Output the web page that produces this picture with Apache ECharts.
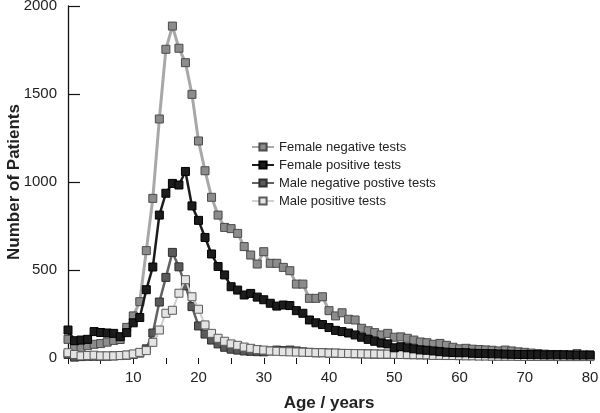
<!DOCTYPE html>
<html>
<head>
<meta charset="utf-8">
<script src="https://cdn.jsdelivr.net/npm/echarts@6/dist/echarts.min.js"></script>
<style>html,body{margin:0;padding:0;background:#fff}#c{width:600px;height:413px}</style>
</head>
<body>
<div id="c"></div>
<script>
var ages = [];
for (var a = 0; a <= 80; a++) ages.push(a);

var femaleNegative = [106,55,58,70,78,82,90,100,105,174,239,320,610,907,1358,1754,1886,1760,1678,1498,
  1233,1064,913,812,742,735,708,633,585,534,604,538,538,515,496,420,420,339,339,348,
  269,239,257,220,216,169,155,144,131,140,118,120,112,102,91,87,78,83,72,61,
  52,55,50,48,46,44,40,45,40,35,32,28,25,22,20,20,18,18,25,16,16];
var femalePositive = [159,98,102,106,150,145,142,140,121,144,200,230,388,517,812,936,992,983,1060,864,
  782,685,591,520,472,405,386,358,367,346,331,311,295,301,298,269,254,216,200,190,
  173,157,150,142,131,118,106,95,85,80,58,64,58,52,46,44,40,36,33,31,
  30,30,27,26,25,24,23,22,21,20,20,19,19,18,18,18,18,17,17,17,17];
var maleNegative = [20,5,8,10,10,10,10,12,14,16,20,28,52,142,318,458,600,518,410,292,
  182,136,102,80,61,50,45,40,38,36,35,40,45,42,45,40,35,32,30,30,
  28,27,26,25,24,24,23,22,22,21,20,20,19,19,18,18,17,17,16,16,
  15,15,15,14,14,14,13,13,13,13,12,12,12,12,12,12,12,12,12,12,12];
var malePositive = [30,20,12,14,16,12,12,12,14,17,23,32,42,89,159,254,271,368,445,348,
  277,188,140,112,95,80,72,62,55,48,45,40,38,36,35,34,33,32,30,30,
  28,28,26,26,25,24,23,23,22,22,21,20,20,19,19,18,15,15,14,14,
  13,12,12,11,11,10,10,10,10,9,9,9,9,9,9,8,8,8,8,8,8];

var seriesNames = ['Female negative tests','Female positive tests','Male negative postive tests','Male positive tests'];
var yTicks = [0,500,1000,1500,2000];
var xLabelStep = 10;

function pairs(vals){ return ages.map(function(x,i){ return [x, vals[i]]; }); }

var FONT = 'Liberation Sans, Arial, Helvetica, sans-serif';
var chart = echarts.init(document.getElementById('c'), null, {renderer:'canvas'});
function mk(name, data, fill, border, line, lw, z){
  return {
    name: name, type: 'line', data: pairs(data), z: z,
    symbol: 'rect', symbolSize: 8, clip: false, animation: false,
    itemStyle: {color: fill, borderColor: border, borderWidth: 1},
    lineStyle: {color: line, width: lw},
    emphasis: {disabled: true}
  };
}
chart.setOption({
  backgroundColor: '#fff',
  animation: false,
  grid: {left: 68, right: 10, top: 6, bottom: 55, containLabel: false, outerBoundsMode: 'none'},
  legend: {
    data: seriesNames, orient: 'vertical', left: 251, top: 140, padding: 0,
    itemWidth: 22, itemHeight: 9, itemGap: 4,
    textStyle: {fontFamily: FONT, fontSize: 13, color: '#222', lineHeight: 14}
  },
  xAxis: {
    type: 'value', min: 0, max: 80, interval: 5,
    name: 'Age / years', nameLocation: 'middle', nameGap: 37, nameMoveOverlap: false,
    nameTextStyle: {fontFamily: FONT, fontSize: 17, fontWeight: 'bold', color: '#222'},
    axisLine: {show: false},
    axisTick: {show: true, length: 6, lineStyle: {color: '#111', width: 1}},
    splitLine: {show: false},
    axisLabel: {
      margin: 12, fontFamily: FONT, fontSize: 15, color: '#222', hideOverlap: false,
      formatter: function(v){ return (v !== 0 && v % xLabelStep === 0) ? String(v) : ''; }
    }
  },
  yAxis: {
    type: 'value', min: yTicks[0], max: yTicks[yTicks.length-1], interval: yTicks[1]-yTicks[0],
    offset: 3,
    name: 'Number of Patients', nameLocation: 'middle', nameGap: 42, nameMoveOverlap: false,
    nameTextStyle: {fontFamily: FONT, fontSize: 17, fontWeight: 'bold', color: '#222'},
    axisLine: {show: true, lineStyle: {color: '#111', width: 1.3}},
    axisTick: {show: true, inside: true, length: 12, lineStyle: {color: '#111', width: 1.2}},
    splitLine: {show: false},
    axisLabel: {margin: 8, fontFamily: FONT, fontSize: 15, color: '#222',
      formatter: function(v){ return String(v); }}
  },
  series: [
    mk(seriesNames[0], femaleNegative, '#8c8c8c', '#4a4a4a', '#a8a8a8', 3, 2),
    mk(seriesNames[1], femalePositive, '#1c1c1c', '#000000', '#1c1c1c', 2.5, 5),
    mk(seriesNames[2], maleNegative, '#5a5a5a', '#2e2e2e', '#626262', 2.5, 3),
    mk(seriesNames[3], malePositive, '#e4e4e4', '#5a5a5a', '#d0d0d0', 2, 4)
  ]
});
</script>
</body>
</html>
